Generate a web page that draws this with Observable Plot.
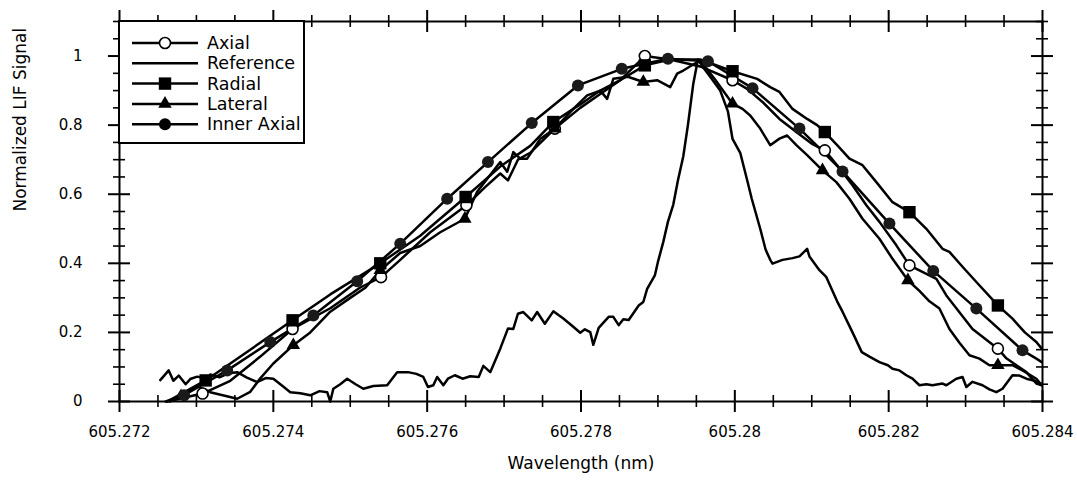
<!DOCTYPE html>
<html><head><meta charset="utf-8">
<script src="https://cdn.jsdelivr.net/npm/d3@7"></script>
<script src="https://cdn.jsdelivr.net/npm/@observablehq/plot@0.6"></script>
<style>body{margin:0;background:#fff}#chart{width:1077px;height:489px}</style>
</head><body><div id="chart"></div>
<script>
// ---- tick labels ----
const xTickLabels = ["605.272","605.274","605.276","605.278","605.28","605.282","605.284"];
const yTickLabels = ["0","0.2","0.4","0.6","0.8","1"];
const seriesNames = ["Axial","Reference","Radial","Lateral","Inner Axial"];

// ---- Reference ----
const refWl = [605.27253,605.27264,605.27270,605.27277,605.27286,605.27292,605.27301,605.27314,605.27318,605.27330,605.27342,605.27353,605.27365,605.27379,605.27390,605.27400,605.27412,605.27422,605.27435,605.27448,605.27460,605.27470,605.27474,605.27478,605.27487,605.27496,605.27507,605.27517,605.27530,605.27548,605.27561,605.27575,605.27586,605.27595,605.27601,605.27608,605.27613,605.27621,605.27627,605.27636,605.27646,605.27656,605.27667,605.27673,605.27682,605.27695,605.27705,605.27712,605.27718,605.27725,605.27736,605.27743,605.27753,605.27764,605.27777,605.27788,605.27799,605.27805,605.27812,605.27816,605.27823,605.27836,605.27842,605.27849,605.27855,605.27862,605.27875,605.27881,605.27886,605.27896,605.27900,605.27907,605.27913,605.27920,605.27926,605.27933,605.27939,605.27946,605.27952,605.27958,605.27968,605.27981,605.27991,605.27997,605.28007,605.28015,605.28022,605.28033,605.28040,605.28046,605.28049,605.28062,605.28075,605.28084,605.28094,605.28097,605.28110,605.28119,605.28133,605.28140,605.28153,605.28165,605.28175,605.28188,605.28199,605.28205,605.28214,605.28223,605.28231,605.28240,605.28249,605.28257,605.28270,605.28275,605.28288,605.28296,605.28301,605.28309,605.28322,605.28331,605.28340,605.28348,605.28361,605.28370,605.28379,605.28390,605.28399];
const refSig = [0.062,0.09,0.060,0.075,0.050,0.065,0.072,0.066,0.078,0.070,0.082,0.085,0.07,0.056,0.068,0.066,0.045,0.027,0.024,0.018,0.03,0.027,0.0,0.037,0.05,0.066,0.05,0.037,0.045,0.047,0.085,0.085,0.08,0.071,0.042,0.047,0.071,0.047,0.066,0.076,0.066,0.073,0.071,0.103,0.085,0.153,0.211,0.21,0.254,0.259,0.235,0.259,0.225,0.261,0.24,0.22,0.199,0.209,0.201,0.164,0.213,0.245,0.245,0.221,0.238,0.236,0.278,0.288,0.326,0.365,0.404,0.462,0.52,0.57,0.64,0.71,0.80,0.92,0.99,0.97,0.94,0.90,0.84,0.76,0.72,0.65,0.587,0.50,0.44,0.41,0.399,0.41,0.415,0.42,0.442,0.42,0.38,0.36,0.29,0.26,0.20,0.143,0.13,0.114,0.105,0.095,0.09,0.076,0.066,0.047,0.05,0.047,0.052,0.047,0.066,0.071,0.042,0.057,0.047,0.035,0.027,0.037,0.076,0.075,0.066,0.06,0.05];

// ---- Inner Axial ----
const innerWl = [605.27260,605.27284,605.27340,605.27396,605.27452,605.27509,605.27565,605.27626,605.27679,605.27736,605.27796,605.27853,605.27913,605.27965,605.28023,605.28084,605.28106,605.28140,605.28201,605.28258,605.28314,605.28374,605.28392,605.28399];
const innerSig = [0.0,0.018,0.09,0.172,0.249,0.348,0.457,0.587,0.693,0.806,0.915,0.963,0.992,0.985,0.907,0.79,0.742,0.666,0.515,0.378,0.269,0.148,0.124,0.114];
const innerMarkWl = [605.27284,605.27340,605.27396,605.27452,605.27509,605.27565,605.27626,605.27679,605.27736,605.27796,605.27853,605.27913,605.27965,605.28023,605.28084,605.28140,605.28201,605.28258,605.28314,605.28374];
const innerMarkSig = [0.018,0.09,0.172,0.249,0.348,0.457,0.587,0.693,0.806,0.915,0.963,0.992,0.985,0.907,0.79,0.666,0.515,0.378,0.269,0.148];

// ---- Radial ----
const radWl = [605.27262,605.27312,605.27370,605.27425,605.27474,605.27539,605.27591,605.27650,605.27695,605.27734,605.27764,605.27799,605.27825,605.27851,605.27883,605.27916,605.27955,605.27997,605.28029,605.28046,605.28058,605.28075,605.28094,605.28107,605.28117,605.28133,605.28149,605.28166,605.28184,605.28205,605.28227,605.28249,605.28270,605.28279,605.28296,605.28314,605.28342,605.28361,605.28377,605.28392,605.28399];
const radSig = [0.0,0.061,0.15,0.235,0.31,0.40,0.48,0.592,0.68,0.74,0.809,0.86,0.90,0.93,0.973,0.99,0.99,0.956,0.934,0.91,0.896,0.847,0.818,0.80,0.78,0.742,0.703,0.684,0.635,0.577,0.548,0.50,0.442,0.433,0.39,0.346,0.278,0.24,0.20,0.172,0.153];
const radMarkWl = [605.27312,605.27425,605.27539,605.27650,605.27764,605.27883,605.27997,605.28117,605.28227,605.28342];
const radMarkSig = [0.061,0.235,0.40,0.592,0.809,0.973,0.956,0.78,0.548,0.278];

// ---- Axial ----
const axWl = [605.27262,605.27308,605.27344,605.27383,605.27425,605.27474,605.27513,605.27540,605.27565,605.27604,605.27651,605.27675,605.27695,605.27705,605.27718,605.27734,605.27766,605.27799,605.27825,605.27851,605.27883,605.27916,605.27955,605.27997,605.28016,605.28036,605.28058,605.28080,605.28101,605.28117,605.28133,605.28153,605.28171,605.28188,605.28210,605.28227,605.28262,605.28275,605.28309,605.28342,605.28353,605.28366,605.28379,605.28392,605.28399];
const axSig = [0.0,0.023,0.06,0.13,0.21,0.27,0.33,0.36,0.41,0.49,0.568,0.62,0.66,0.64,0.70,0.72,0.79,0.85,0.89,0.93,1.0,0.99,0.97,0.93,0.905,0.867,0.818,0.78,0.745,0.727,0.684,0.626,0.568,0.52,0.452,0.394,0.355,0.307,0.21,0.153,0.125,0.105,0.085,0.052,0.047];
const axMarkWl = [605.27308,605.27425,605.27540,605.27651,605.27766,605.27883,605.27997,605.28117,605.28227,605.28342];
const axMarkSig = [0.023,0.21,0.36,0.568,0.79,1.0,0.93,0.727,0.394,0.153];

// ---- Lateral ----
const latWl = [605.27266,605.27300,605.27318,605.27353,605.27370,605.27383,605.27400,605.27426,605.27448,605.27474,605.27500,605.27520,605.27539,605.27565,605.27591,605.27617,605.27649,605.27665,605.27695,605.27704,605.27712,605.27721,605.27730,605.27747,605.27766,605.27790,605.27808,605.27825,605.27834,605.27842,605.27861,605.27881,605.27899,605.27916,605.27925,605.27933,605.27955,605.27975,605.27997,605.28010,605.28020,605.28033,605.28046,605.28058,605.28068,605.28080,605.28094,605.28114,605.28132,605.28149,605.28166,605.28188,605.28205,605.28225,605.28240,605.28253,605.28266,605.28279,605.28292,605.28305,605.28318,605.28331,605.28342,605.28361,605.28374,605.28392,605.28399];
const latSig = [0.0,0.045,0.027,0.008,0.028,0.067,0.11,0.163,0.20,0.26,0.30,0.33,0.38,0.43,0.45,0.49,0.529,0.607,0.693,0.665,0.722,0.703,0.703,0.76,0.79,0.847,0.886,0.90,0.876,0.934,0.94,0.925,0.93,0.91,0.949,0.958,0.988,0.93,0.862,0.847,0.828,0.79,0.742,0.761,0.77,0.742,0.713,0.669,0.635,0.587,0.529,0.471,0.413,0.351,0.32,0.29,0.269,0.21,0.17,0.134,0.124,0.105,0.105,0.105,0.09,0.066,0.047];
const latMarkWl = [605.27280,605.27426,605.27539,605.27649,605.27766,605.27881,605.27997,605.28114,605.28225,605.28342];
const latMarkSig = [0.015,0.163,0.38,0.529,0.79,0.925,0.862,0.669,0.351,0.105];

// ---- build tables ----
const pts = (wl, sig, name) => wl.map((w, i) => ({w, v: sig[i], name}));
const lineData = [
  ...pts(axWl, axSig, "Axial"),
  ...pts(refWl, refSig, "Reference"),
  ...pts(radWl, radSig, "Radial"),
  ...pts(latWl, latSig, "Lateral"),
  ...pts(innerWl, innerSig, "Inner Axial")
];
const xTicks = xTickLabels.map(s => ({x: +s, label: s}));
const yTicks = yTickLabels.map(s => ({y: +s, label: s}));
const xMinor = d3.range(0, 25).map(i => 605.272 + i * 0.0005).filter((d, i) => i % 4 !== 0);
const yMinor = d3.range(0, 23).map(i => i * 0.05).filter((d, i) => i % 4 !== 0);
const yMajor = yTicks.map(d => d.y);

const W = 1077, H = 489, mL = 119, mR = 35, mT = 21, mB = 88;
const iW = W - mL - mR, iH = H - mT - mB;
const FONT = "DejaVu Sans, sans-serif";
const LW = 2.5;

const chart = Plot.plot({
  width: W, height: H,
  marginLeft: mL, marginRight: mR, marginTop: mT, marginBottom: mB,
  style: {fontFamily: FONT, fontSize: "14px", background: "white", color: "black", overflow: "visible"},
  x: {domain: [605.272, 605.284], axis: null},
  y: {domain: [0, 1.1], axis: null},
  marks: [
    // crossing ticks, bottom & top
    Plot.tickX(xTicks, {x: "x", insetTop: iH - 11, insetBottom: -11, stroke: "black", strokeWidth: 2}),
    Plot.tickX(xTicks, {x: "x", insetTop: -11, insetBottom: iH - 11, stroke: "black", strokeWidth: 2}),
    Plot.tickX(xMinor, {x: d => d, insetTop: iH - 6, insetBottom: -6, stroke: "black", strokeWidth: 1.6}),
    Plot.tickX(xMinor, {x: d => d, insetTop: -6, insetBottom: iH - 6, stroke: "black", strokeWidth: 1.6}),
    // crossing ticks, left & right
    Plot.tickY(yMajor, {y: d => d, insetLeft: -11, insetRight: iW - 11, stroke: "black", strokeWidth: 2}),
    Plot.tickY(yMajor, {y: d => d, insetLeft: iW - 11, insetRight: -11, stroke: "black", strokeWidth: 2}),
    Plot.tickY(yMinor, {y: d => d, insetLeft: -6, insetRight: iW - 6, stroke: "black", strokeWidth: 1.6}),
    Plot.tickY(yMinor, {y: d => d, insetLeft: iW - 6, insetRight: -6, stroke: "black", strokeWidth: 1.6}),
    Plot.frame({stroke: "black", strokeWidth: 2}),
    // tick labels
    Plot.text(xTicks, {x: "x", text: "label", frameAnchor: "bottom", dy: 35, fontSize: 15, fill: "black"}),
    Plot.text(yTicks, {y: "y", text: "label", frameAnchor: "left", dx: -37, textAnchor: "end", fontSize: 15, fill: "black"}),
    // axis titles
    Plot.text(["Wavelength (nm)"], {text: d => d, frameAnchor: "bottom", dy: 67, fontSize: 17, fill: "black"}),
    Plot.text(["Normalized LIF Signal"], {text: d => d, frameAnchor: "left", dx: -99, rotate: -90, fontSize: 17, fill: "black"}),
    // curves
    Plot.line(lineData, {x: "w", y: "v", z: "name", stroke: "black", strokeWidth: LW, strokeLinejoin: "round"}),
    // markers
    Plot.dot(pts(axMarkWl, axMarkSig, "Axial"), {x: "w", y: "v", symbol: "circle", r: 5.5, fill: "white", stroke: "black", strokeWidth: 1.6}),
    Plot.dot(pts(radMarkWl, radMarkSig, "Radial"), {x: "w", y: "v", symbol: "square", r: 7, fill: "black"}),
    Plot.dot(pts(latMarkWl, latMarkSig, "Lateral"), {x: "w", y: "v", symbol: "triangle", r: 5, fill: "black"}),
    Plot.dot(pts(innerMarkWl, innerMarkSig, "Inner Axial"), {x: "w", y: "v", symbol: "circle", r: 6, fill: "#1a1a1a"})
  ]
});

// ---- legend box inside the plot (top-left) ----
const svg = d3.select(chart);
const lg = svg.append("g").attr("font-family", FONT).attr("font-size", 17.5).attr("text-anchor", "start");
lg.append("rect").attr("x", mL).attr("y", mT).attr("width", 185).attr("height", 122)
  .attr("fill", "white").attr("stroke", "black").attr("stroke-width", 2);
const sym = {
  "Axial": d3.symbol(d3.symbolCircle, Math.PI * 5.5 * 5.5),
  "Radial": d3.symbol(d3.symbolSquare, Math.PI * 7 * 7),
  "Lateral": d3.symbol(d3.symbolTriangle, Math.PI * 5 * 5),
  "Inner Axial": d3.symbol(d3.symbolCircle, Math.PI * 6 * 6)
};
seriesNames.forEach((name, i) => {
  const y = mT + 22 + i * 20.3;
  const g = lg.append("g");
  g.append("line").attr("x1", mL + 13).attr("x2", mL + 79).attr("y1", y).attr("y2", y)
    .attr("stroke", "black").attr("stroke-width", LW);
  if (sym[name]) {
    g.append("path").attr("d", sym[name]()).attr("transform", `translate(${mL + 46},${y})`)
      .attr("fill", name === "Axial" ? "white" : "black")
      .attr("stroke", name === "Axial" ? "black" : "none").attr("stroke-width", 1.6);
  }
  g.append("text").attr("x", mL + 88).attr("y", y).attr("dy", "0.35em")
    .attr("text-anchor", "start").attr("fill", "black").text(name);
});

document.getElementById("chart").appendChild(chart);
</script>
</body></html>
